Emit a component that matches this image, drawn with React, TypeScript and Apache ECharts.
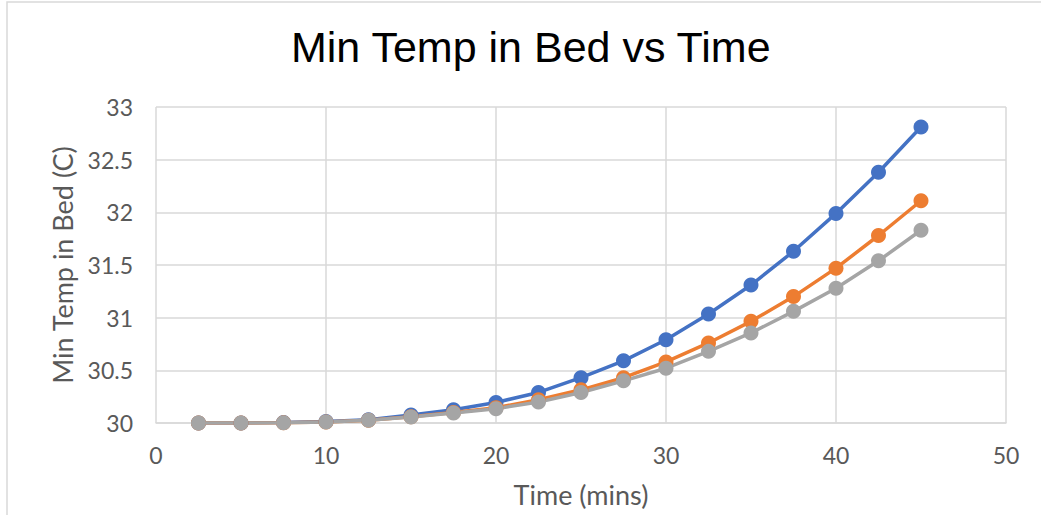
import React, { useEffect, useRef } from "react";
import * as echarts from "echarts";

const timeMins = [2.5, 5, 7.5, 10, 12.5, 15, 17.5, 20, 22.5, 25, 27.5, 30, 32.5, 35, 37.5, 40, 42.5, 45];
const seriesBlue = [30.0, 30.0, 30.005, 30.015, 30.03, 30.075, 30.125, 30.195, 30.29, 30.43, 30.59, 30.79, 31.035, 31.31, 31.63, 31.99, 32.38, 32.81];
const seriesOrange = [30.0, 30.0, 30.003, 30.01, 30.025, 30.06, 30.1, 30.145, 30.22, 30.315, 30.43, 30.58, 30.76, 30.965, 31.2, 31.47, 31.78, 32.11];
const seriesGray = [30.0, 30.0, 30.003, 30.01, 30.025, 30.057, 30.095, 30.135, 30.2, 30.29, 30.4, 30.52, 30.68, 30.855, 31.06, 31.28, 31.54, 31.83];
const xTicks = [0, 10, 20, 30, 40, 50];
const yTicks = [30, 30.5, 31, 31.5, 32, 32.5, 33];

const colors = ["#4472C4", "#ED7D31", "#A5A5A5"];

export default function App() {
  const ref = useRef<HTMLDivElement>(null);
  useEffect(() => {
    if (!ref.current) return;
    const chart = echarts.init(ref.current, null, { renderer: "svg" });
    const mk = (data: number[], color: string) => ({
      type: "line",
      data: timeMins.map((t, i) => [t, data[i]]),
      symbol: "circle",
      symbolSize: 15,
      showSymbol: true,
      lineStyle: { color, width: 3.5 },
      itemStyle: { color },
      z: 2,
    });
    chart.setOption({
      animation: false,
      backgroundColor: "#ffffff",
      title: {
        text: "Min Temp in Bed vs Time",
        left: 286,
        top: 20,
        textStyle: { fontFamily: "Liberation Sans", fontSize: 43, fontWeight: "normal", color: "#000000" },
      },
      graphic: [
        {
          type: "rect",
          shape: { x: 7, y: 2, width: 1100, height: 600 },
          style: { fill: "none", stroke: "#d9d9d9", lineWidth: 1.5 },
          silent: true,
        },
      ],
      grid: { left: 156, right: 35, top: 107, bottom: 92 },
      xAxis: {
        type: "value",
        min: xTicks[0],
        max: xTicks[xTicks.length - 1],
        interval: 10,
        name: "Time (mins)",
        nameLocation: "middle",
        nameGap: 58,
        nameTextStyle: { fontFamily: "Lato", fontSize: 27, color: "#595959" },
        axisLine: { show: true, lineStyle: { color: "#d9d9d9", width: 1.5 } },
        axisTick: { show: false },
        axisLabel: { margin: 20, fontFamily: "Lato", fontSize: 23, color: "#595959" },
        splitLine: { show: true, lineStyle: { color: "#d9d9d9", width: 1.5 } },
      },
      yAxis: {
        type: "value",
        min: yTicks[0],
        max: yTicks[yTicks.length - 1],
        interval: 0.5,
        name: "Min Temp in Bed (C)",
        nameLocation: "middle",
        nameGap: 80,
        nameTextStyle: { fontFamily: "Lato", fontSize: 27, color: "#595959" },
        axisLine: { show: false },
        axisTick: { show: false },
        axisLabel: { margin: 23, fontFamily: "Lato", fontSize: 23, color: "#595959" },
        splitLine: { show: true, lineStyle: { color: "#d9d9d9", width: 1.5 } },
      },
      series: [mk(seriesBlue, colors[0]), mk(seriesOrange, colors[1]), mk(seriesGray, colors[2])],
    });
    return () => chart.dispose();
  }, []);
  return (
    <div
      ref={ref}
      style={{ position: "fixed", left: 0, top: 0, width: 1041, height: 515 }}
    />
  );
}
